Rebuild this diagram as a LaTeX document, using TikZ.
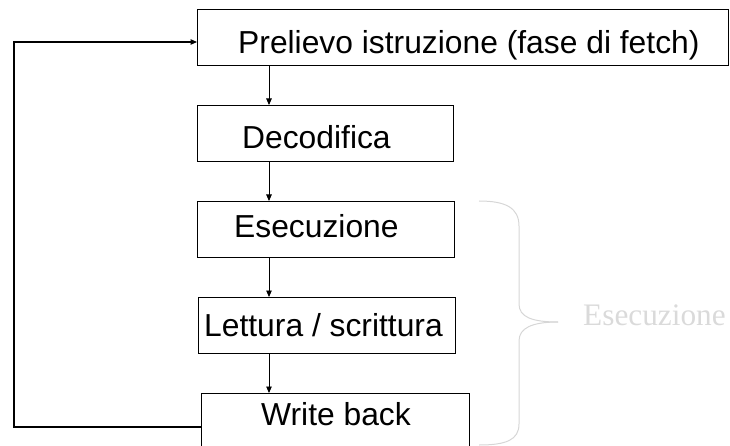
\documentclass[tikz,border=0pt]{standalone}
\usepackage{fontspec}
\setmainfont{Liberation Sans}
\newfontfamily\serifgray{Liberation Serif}
\usetikzlibrary{arrows.meta}
\definecolor{lightgr}{RGB}{214,214,214}
\definecolor{textgr}{RGB}{218,218,218}
\tikzset{
  stagebox/.style={draw=black, line width=0.9pt, rectangle, inner sep=0pt, anchor=north west},
  stagetxt/.style={inner sep=0pt, anchor=base west, font=\fontsize{31.8}{36}\selectfont},
  flowarr/.style={draw=black, line width=0.9pt, -{Triangle[length=6.5pt,width=5.5pt]}},
  fbline/.style={draw=black, line width=1.6pt},
  fbarr/.style={draw=black, line width=1.2pt, -{Triangle[length=6.5pt,width=5.5pt]}},
  bracepath/.style={draw=lightgr, line width=1pt}
}
\begin{document}
\begin{tikzpicture}[x=1pt,y=-1pt]
\useasboundingbox (0,0) rectangle (730,446);
\clip (0,0) rectangle (730,446);
% boxes
\node[stagebox, minimum width=531pt, minimum height=56pt] (b1) at (197,9) {};
\node[stagebox, minimum width=256pt, minimum height=56pt] (b2) at (197,105) {};
\node[stagebox, minimum width=257pt, minimum height=56pt] (b3) at (197,201) {};
\node[stagebox, minimum width=257pt, minimum height=56pt] (b4) at (198,297) {};
\node[stagebox, minimum width=268pt, minimum height=67pt] (b5) at (201,393) {};
% texts
\node[stagetxt] (t1) at (238,54) {Prelievo istruzione (fase di fetch)};
\node[stagetxt] (t2) at (242,149) {Decodifica};
\node[stagetxt] (t3) at (234,237) {Esecuzione};
\node[stagetxt] (t4) at (204,336) {Lettura / scrittura};
\node[stagetxt] (t5) at (261,425) {Write back};
% arrows
\coordinate (ax) at (269,0);
\draw[flowarr] (b1.south -| ax) -- (b2.north -| ax);
\draw[flowarr] (b2.south -| ax) -- (b3.north -| ax);
\draw[flowarr] (b3.south -| ax) -- (b4.north -| ax);
\draw[flowarr] (b4.south -| ax) -- (b5.north -| ax);
% feedback
\coordinate (fbc) at (14,42);
\draw[fbline] (b5.west) -| (fbc) -- ([xshift=-12pt]b1.west |- fbc);
\draw[fbarr] ([xshift=-13pt]b1.west |- fbc) -- (b1.west |- fbc);
% brace
\coordinate (tip) at (558,322);
\draw[bracepath] (479,201) .. controls (506,201) and (519,208) .. (519,226)
  -- (519,304) .. controls (519,317) and (532,322) .. (tip);
\draw[bracepath] (tip) .. controls (532,322) and (519,328) .. (519,341)
  -- (519,424) .. controls (519,440) and (506,445) .. (479,445);
\node[inner sep=0pt, anchor=base west, text=textgr, font=\serifgray\fontsize{31.3}{36}\selectfont] (bl) at (583,325) {Esecuzione};
\end{tikzpicture}
\end{document}
